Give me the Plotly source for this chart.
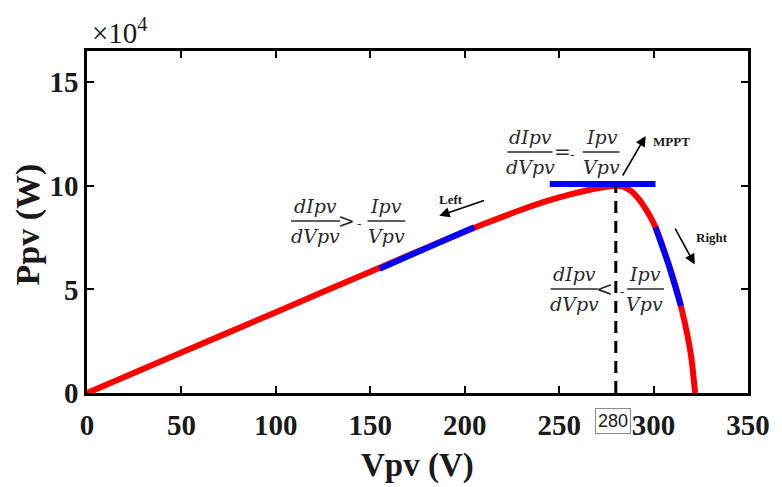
import plotly.graph_objects as go

# P-V characteristic of the PV array (power in units of 1e4 W)
v_pv = [0, 50, 100, 150, 190, 210, 230, 245, 258, 268, 275, 280, 284, 288,
        292, 296, 300, 304, 308, 312, 315, 318, 320, 322]
p_pv = [0, 1.95, 3.9, 5.85, 7.41, 8.15, 8.84, 9.3, 9.63, 9.84, 9.95, 10.0, 9.96,
        9.75, 9.38, 8.85, 8.2, 7.3, 6.2, 5.05, 4.0, 2.75, 1.7, 0]

# Tangent segments (left of MPP, at MPP, right of MPP)
left_v = [155, 205]
left_p = [6.0, 8.0]
mpp_v = [245, 301]
mpp_p = [10.08, 10.08]
right_v = [301, 308, 314.5]
right_p = [8.0, 6.2, 4.2]

# Maximum power point
v_mpp = 280
p_mpp = 10.0

x_ticks = [0, 50, 100, 150, 200, 250, 300, 350]
y_ticks = [0, 5, 10, 15]

RED = "#ff0000"
BLUE = "#0000ff"
INK = "#1a1a1a"
SERIF = "Liberation Serif"
MATH = "DejaVu Serif"

fig = go.Figure()
fig.add_trace(go.Scatter(x=v_pv, y=p_pv, mode="lines",
                         line=dict(color=RED, width=6, shape="spline", smoothing=0.6),
                         hoverinfo="skip"))
for xs, ys in [(left_v, left_p), (mpp_v, mpp_p), (right_v, right_p)]:
    fig.add_trace(go.Scatter(x=xs, y=ys, mode="lines",
                             line=dict(color=BLUE, width=6), hoverinfo="skip"))

shapes = [
    dict(type="line", xref="x", yref="y", x0=v_mpp, x1=v_mpp, y0=0, y1=p_mpp,
         line=dict(color="black", width=3, dash="12px,8px"), layer="above"),
]
annotations = []

math_font = dict(family=MATH, size=19, color="#2a2a2a", style="italic")


def fraction(xc, y_bar, x0, x1, num, den, dy=0.74):
    """Stacked fraction: numerator above a rule, denominator below."""
    shapes.append(dict(type="line", xref="x", yref="y", x0=x0, x1=x1,
                       y0=y_bar, y1=y_bar, line=dict(color="#2a2a2a", width=1.5)))
    annotations.append(dict(x=xc, y=y_bar + dy, xref="x", yref="y", text=num,
                            showarrow=False, font=math_font,
                            xanchor="center", yanchor="middle"))
    annotations.append(dict(x=xc, y=y_bar - dy, xref="x", yref="y", text=den,
                            showarrow=False, font=math_font,
                            xanchor="center", yanchor="middle"))


def symbol(x, y, text, size=20):
    annotations.append(dict(x=x, y=y, xref="x", yref="y", text=text,
                            showarrow=False,
                            font=dict(family=MATH, size=size, color="#2a2a2a"),
                            xanchor="center", yanchor="middle"))


def label(x, y, text):
    annotations.append(dict(x=x, y=y, xref="x", yref="y", text=text,
                            showarrow=False,
                            font=dict(family=SERIF, size=13, color=INK, weight="bold"),
                            xanchor="center", yanchor="middle"))


def arrow(x_tail, y_tail, x_head, y_head):
    annotations.append(dict(x=x_head, y=y_head, ax=x_tail, ay=y_tail,
                            xref="x", yref="y", axref="x", ayref="y", text="",
                            showarrow=True, arrowhead=2, arrowsize=1.3,
                            arrowwidth=1.6, arrowcolor="black"))


# Left of MPP
fraction(121, 8.3, 108, 134, "dIpv", "dVpv")
symbol(137.5, 8.3, ">")
symbol(144, 8.2, "-", size=13)
fraction(158.5, 8.3, 148.5, 168.5, "Ipv", "Vpv")
label(192.5, 9.33, "Left")
arrow(211, 9.31, 186.5, 8.55)

# At MPP
fraction(234.7, 11.63, 222.5, 246.5, "dIpv", "dVpv")
symbol(251.6, 11.63, "=")
symbol(257, 11.5, "-", size=13)
fraction(272.6, 11.63, 262.5, 282, "Ipv", "Vpv")
label(309.5, 12.15, "MPPT")
arrow(283.2, 10.42, 295.8, 12.4)

# Right of MPP
fraction(257.9, 5.02, 245.5, 270.5, "dIpv", "dVpv")
symbol(274.2, 5.02, "<")
symbol(283.3, 4.92, "-", size=13)
fraction(295.3, 5.02, 286, 305.5, "Ipv", "Vpv")
label(331, 7.5, "Right")
arrow(311, 8.0, 321.8, 6.2)

# Boxed MPP voltage under the x axis
annotations.append(dict(x=v_mpp, y=-0.082, xref="x", yref="paper", xshift=-3,
                        text=str(v_mpp), showarrow=False,
                        font=dict(family="Liberation Sans", size=18, color=INK),
                        bordercolor="#8c8c8c", borderwidth=1, borderpad=2,
                        bgcolor="white", xanchor="center", yanchor="middle"))

# Axis titles and exponent
annotations.append(dict(x=0.5, y=-0.213, xref="paper", yref="paper",
                        text="Vpv (V)", showarrow=False,
                        font=dict(family=SERIF, size=33, color=INK, weight="bold"),
                        xanchor="center", yanchor="middle"))
annotations.append(dict(x=-0.0886, y=0.494, xref="paper", yref="paper",
                        text="Ppv (W)", showarrow=False, textangle=-90,
                        font=dict(family=SERIF, size=34, color=INK, weight="bold"),
                        xanchor="center", yanchor="middle"))
annotations.append(dict(x=0.004, y=1.0, xref="paper", yref="paper",
                        text="×10<sup>4</sup>", showarrow=False,
                        font=dict(family=SERIF, size=29, color=INK),
                        xanchor="left", yanchor="bottom"))

axis_common = dict(showline=True, mirror="ticks", linecolor="black", linewidth=2.5,
                   ticks="inside", ticklen=7, tickwidth=2, tickcolor="black",
                   showgrid=False, zeroline=False,
                   tickfont=dict(family=SERIF, size=29, color=INK, weight="bold"))

fig.update_layout(
    width=782, height=487, autosize=False,
    margin=dict(l=87, r=29, t=51, b=94),
    paper_bgcolor="white", plot_bgcolor="white",
    showlegend=False,
    xaxis=dict(range=[0, 350], tickvals=x_ticks, ticklabelstandoff=4, **axis_common),
    yaxis=dict(range=[0, 16.5], tickvals=y_ticks, **axis_common),
    shapes=shapes,
    annotations=annotations,
)

fig.write_html("out.html")
